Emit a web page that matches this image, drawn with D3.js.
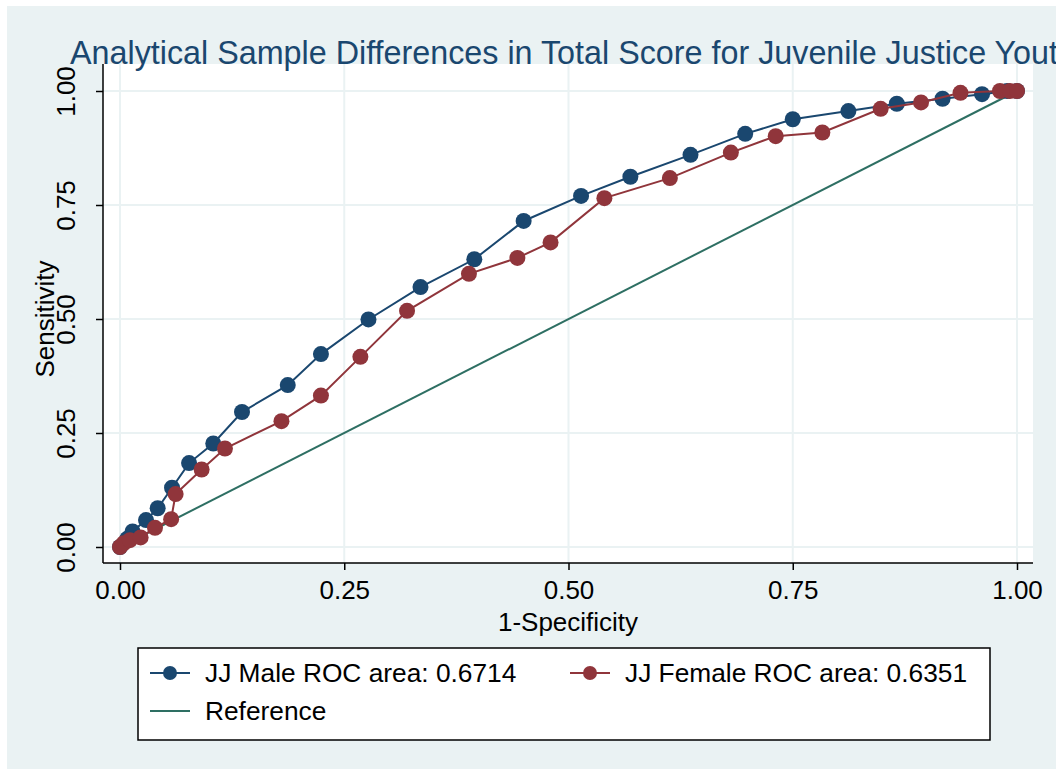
<!DOCTYPE html>
<html>
<head>
<meta charset="utf-8">
<script src="https://cdn.jsdelivr.net/npm/d3@7"></script>
<style>
  body { margin: 0; background: #fff; }
  svg { display: block; font-family: "Liberation Sans", Arial, sans-serif; }
</style>
</head>
<body>
<svg id="chart"></svg>
<script>
// ROC points
var maleFpr = [0, 0.008, 0.014, 0.029, 0.042, 0.058, 0.077, 0.104, 0.136, 0.187, 0.224, 0.277, 0.335, 0.395, 0.450, 0.514, 0.569, 0.636, 0.697, 0.750, 0.812, 0.866, 0.917, 0.961, 0.989, 1];
var maleTpr = [0, 0.018, 0.034, 0.059, 0.085, 0.130, 0.184, 0.227, 0.296, 0.355, 0.423, 0.499, 0.570, 0.631, 0.715, 0.770, 0.812, 0.860, 0.906, 0.938, 0.956, 0.972, 0.983, 0.993, 1.0, 1];
var femFpr = [0, 0.004, 0.011, 0.023, 0.039, 0.057, 0.062, 0.091, 0.117, 0.180, 0.224, 0.268, 0.320, 0.389, 0.443, 0.480, 0.540, 0.613, 0.681, 0.731, 0.783, 0.848, 0.893, 0.937, 0.981, 0.992, 1];
var femTpr = [0, 0.008, 0.015, 0.021, 0.042, 0.061, 0.116, 0.170, 0.216, 0.276, 0.332, 0.417, 0.518, 0.599, 0.634, 0.668, 0.765, 0.809, 0.865, 0.901, 0.909, 0.961, 0.975, 0.996, 1.0, 1.0, 1];
var refLine = [0, 1];
var ticks = [0, 0.25, 0.5, 0.75, 1];
var legendLabels = ["JJ Male ROC area: 0.6714", "JJ Female ROC area: 0.6351", "Reference"];

var W = 1056, H = 769;
var bg = "#eaf2f3", navy = "#1a476f", maroon = "#90353b", teal = "#2e6f63";

var svg = d3.select('#chart').attr('width', W).attr('height', H);

svg.append('rect').attr('x', 7).attr('y', 6).attr('width', W - 7).attr('height', H - 6).attr('fill', bg);

// plot region
var plot = { left: 103, right: 1033, top: 64, bottom: 563 };
svg.append('rect')
    .attr('x', plot.left).attr('y', plot.top)
    .attr('width', plot.right - plot.left).attr('height', plot.bottom - plot.top)
    .attr('fill', '#fff');

var x = d3.scaleLinear().domain([0, 1]).range([120, 1017]);
var y = d3.scaleLinear().domain([0, 1]).range([547, 91]);

// grid
var grid = svg.append('g');
grid.selectAll('.gx').data(ticks).enter().append('line')
    .attr('x1', function(d) { return x(d); }).attr('x2', function(d) { return x(d); })
    .attr('y1', plot.top).attr('y2', plot.bottom)
    .attr('stroke', bg).attr('stroke-width', 2);
grid.selectAll('.gy').data(ticks).enter().append('line')
    .attr('y1', function(d) { return y(d); }).attr('y2', function(d) { return y(d); })
    .attr('x1', plot.left).attr('x2', plot.right)
    .attr('stroke', bg).attr('stroke-width', 2);

// axes
var xAxis = d3.axisBottom(x).tickValues(ticks).tickFormat(d3.format('.2f')).tickSize(7).tickPadding(11);
var yAxis = d3.axisLeft(y).tickValues(ticks).tickFormat(d3.format('.2f')).tickSize(7).tickPadding(0);

var gx = svg.append('g').attr('transform', 'translate(0,' + plot.bottom + ')').call(xAxis);
gx.select('.domain').attr('d', 'M' + plot.left + ',0H' + plot.right);
gx.selectAll('text').attr('font-size', 26).attr('fill', '#000').attr('font-family', null);
gx.selectAll('line, path').attr('stroke', '#000').attr('stroke-width', 1.5);

var gy = svg.append('g').attr('transform', 'translate(' + plot.left + ',0)').call(yAxis);
gy.select('.domain').attr('d', 'M0,' + plot.top + 'V' + plot.bottom);
gy.selectAll('line, path').attr('stroke', '#000').attr('stroke-width', 1.5);
gy.selectAll('text')
    .attr('font-size', 26).attr('fill', '#000').attr('font-family', null)
    .attr('x', null).attr('dy', null)
    .attr('text-anchor', 'middle')
    .attr('transform', 'translate(-28,0) rotate(-90)');

svg.append('text').attr('x', 568).attr('y', 631).attr('text-anchor', 'middle')
    .attr('font-size', 26).text('1-Specificity');
svg.append('text').attr('transform', 'translate(54,319) rotate(-90)').attr('text-anchor', 'middle')
    .attr('font-size', 26).text('Sensitivity');

// title runs past the right edge, as in the original export
svg.append('text').attr('x', 70).attr('y', 64)
    .attr('font-size', 32.3).attr('fill', navy)
    .text('Analytical Sample Differences in Total Score for Juvenile Justice Youth');

// reference line
svg.append('line')
    .attr('x1', x(refLine[0])).attr('y1', y(refLine[0]))
    .attr('x2', x(refLine[1])).attr('y2', y(refLine[1]))
    .attr('stroke', teal).attr('stroke-width', 2);

function series(fx, fy, color) {
    var pts = fx.map(function(v, i) { return [v, fy[i]]; });
    var g = svg.append('g');
    g.append('path').datum(pts)
        .attr('d', d3.line().x(function(d) { return x(d[0]); }).y(function(d) { return y(d[1]); }))
        .attr('fill', 'none').attr('stroke', color).attr('stroke-width', 2);
    g.selectAll('circle').data(pts).enter().append('circle')
        .attr('cx', function(d) { return x(d[0]); })
        .attr('cy', function(d) { return y(d[1]); })
        .attr('r', 8).attr('fill', color);
}
series(maleFpr, maleTpr, navy);
series(femFpr, femTpr, maroon);

// legend
var lg = svg.append('g');
lg.append('rect').attr('x', 138).attr('y', 648).attr('width', 852).attr('height', 92)
    .attr('fill', '#fff').attr('stroke', '#000').attr('stroke-width', 1.5);
var items = [
    { label: legendLabels[0], color: navy, marker: true, x: 150, y: 673 },
    { label: legendLabels[1], color: maroon, marker: true, x: 570, y: 673 },
    { label: legendLabels[2], color: teal, marker: false, x: 150, y: 711 }
];
items.forEach(function(it) {
    lg.append('line').attr('x1', it.x).attr('x2', it.x + 40).attr('y1', it.y).attr('y2', it.y)
        .attr('stroke', it.color).attr('stroke-width', 2);
    if (it.marker) {
        lg.append('circle').attr('cx', it.x + 20).attr('cy', it.y).attr('r', 7).attr('fill', it.color);
    }
    lg.append('text').attr('x', it.x + 55).attr('y', it.y + 9).attr('font-size', 26.3).text(it.label);
});
</script>
</body>
</html>
